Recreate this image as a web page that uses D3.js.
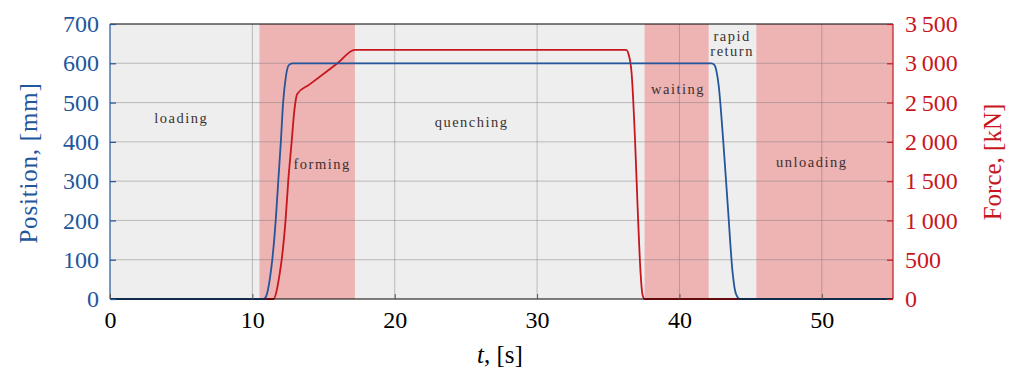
<!DOCTYPE html>
<html><head><meta charset="utf-8">
<script src="https://cdn.jsdelivr.net/npm/d3@7"></script>
<style>body{margin:0;background:#fff}svg{display:block}</style>
</head><body><svg id="c" width="1017" height="370"></svg>
<script>
// ---- data ----
const posT = [0, 10.8, 11.0, 11.2, 11.4, 11.64, 11.82, 12.0, 12.16, 12.35, 12.55, 12.8, 42.25, 42.45, 42.6, 42.75, 43.07, 43.39, 43.74, 43.95, 44.25, 55];
const posV = [0, 0, 10, 45, 100, 200, 300, 400, 500, 565, 595, 600, 600, 596, 580, 545, 405, 240, 65, 15, 0, 0];
const forceT = [0, 11.5, 11.7, 11.9, 12.06, 12.33, 12.52, 12.76, 12.95, 13.15, 14.0, 16.0, 17.2, 36.25, 36.45, 36.64, 36.88, 37.06, 37.27, 37.4, 37.55, 55];
const forceV = [0, 0, 100, 300, 500, 1000, 1500, 2000, 2400, 2610, 2728, 3004, 3170, 3170, 3100, 2873, 2024, 1175, 330, 60, 0, 0];
const bandStart = [10.5, 37.55, 45.4];
const bandEnd = [17.2, 42.05, 55];
const phaseNames = ["loading", "forming", "quenching", "waiting", "rapid|return", "unloading"];
const phaseT = [5.0, 14.9, 25.4, 39.9, 43.7, 49.3];
const phasePos = [448, 331, 438, 522, 657, 336];
const xTicks = [0, 10, 20, 30, 40, 50];
const posTicks = [0, 100, 200, 300, 400, 500, 600, 700];
const forceTicks = [0, 500, 1000, 1500, 2000, 2500, 3000, 3500];
const forceTickLabels = ["0", "500", "1\u2009000", "1\u2009500", "2\u2009000", "2\u2009500", "3\u2009000", "3\u2009500"];

// ---- layout ----
const L = 110, R = 893, T = 24, B = 299;
const blue = "#23569a", red = "#c8161d";
const svg = d3.select("#c");
const x = d3.scaleLinear().domain([0, 55]).range([L, R]);
const yP = d3.scaleLinear().domain([0, 700]).range([B, T]);
const yF = d3.scaleLinear().domain([0, 3500]).range([B, T]);
const font = "Liberation Serif";

svg.append("rect").attr("x", L).attr("y", T).attr("width", R - L).attr("height", B - T).attr("fill", "#eeeeee");
svg.selectAll(".band").data(bandStart).join("rect")
  .attr("x", (d) => x(d)).attr("y", T)
  .attr("width", (d, i) => x(bandEnd[i]) - x(d)).attr("height", B - T)
  .attr("fill", "#eeb3b3");

// grid
svg.selectAll(".gx").data(xTicks.slice(1)).join("line")
  .attr("x1", (d) => x(d)).attr("x2", (d) => x(d)).attr("y1", T).attr("y2", B)
  .attr("stroke", "#7a7a7a").attr("stroke-opacity", 0.45).attr("stroke-width", 1);
svg.selectAll(".gy").data(posTicks.slice(1, -1)).join("line")
  .attr("x1", L).attr("x2", R).attr("y1", (d) => yP(d)).attr("y2", (d) => yP(d))
  .attr("stroke", "#7a7a7a").attr("stroke-opacity", 0.45).attr("stroke-width", 1);

// phase labels
phaseNames.forEach((n, i) => {
  const parts = n.split("|");
  const t = svg.append("text").attr("x", x(phaseT[i])).attr("y", yP(phasePos[i]))
    .attr("text-anchor", "middle").attr("font-family", font).attr("font-size", 14.5)
    .attr("letter-spacing", 1.5).attr("fill", "#3a3030");
  parts.forEach((p, j) => t.append("tspan").attr("x", x(phaseT[i])).attr("dy", j ? 15 : 0).text(p));
});

// lines
const lineP = d3.line().x((d) => x(d[0])).y((d) => yP(d[1])).curve(d3.curveMonotoneX);
const lineF = d3.line().x((d) => x(d[0])).y((d) => yF(d[1])).curve(d3.curveMonotoneX);
svg.append("path").attr("d", lineF(d3.zip(forceT, forceV))).attr("fill", "none").attr("stroke", red).attr("stroke-width", 1.8);
svg.append("path").attr("d", lineP(d3.zip(posT, posV))).attr("fill", "none").attr("stroke", blue).attr("stroke-width", 1.8);

// frame
svg.append("line").attr("x1", L).attr("x2", R).attr("y1", T).attr("y2", T).attr("stroke", "#000").attr("stroke-width", 1.2);
svg.append("line").attr("x1", L).attr("x2", R).attr("y1", B).attr("y2", B).attr("stroke", "#000").attr("stroke-width", 1.2);
svg.append("line").attr("x1", L).attr("x2", L).attr("y1", T).attr("y2", B).attr("stroke", blue).attr("stroke-width", 1.2);
svg.append("line").attr("x1", R).attr("x2", R).attr("y1", T).attr("y2", B).attr("stroke", red).attr("stroke-width", 1.2);

// axes
const ax = svg.append("g").attr("transform", `translate(0,${B})`)
  .call(d3.axisBottom(x).tickValues(xTicks).tickSize(-5).tickPadding(12).tickFormat(d3.format("d")));
ax.select(".domain").remove();
ax.selectAll("line").attr("stroke", "#555");
ax.selectAll("text").attr("font-family", font).attr("font-size", 24).attr("fill", "#000");

const ay = svg.append("g").attr("transform", `translate(${L},0)`)
  .call(d3.axisLeft(yP).tickValues(posTicks).tickSize(-6).tickPadding(11).tickFormat(d3.format("d")));
ay.select(".domain").remove();
ay.selectAll("line").attr("stroke", blue).attr("stroke-width", 1.2);
ay.selectAll("text").attr("font-family", font).attr("font-size", 24).attr("fill", blue);

const ar = svg.append("g").attr("transform", `translate(${R},0)`)
  .call(d3.axisRight(yF).tickValues(forceTicks).tickSize(-6).tickPadding(12).tickFormat((d, i) => forceTickLabels[i]));
ar.select(".domain").remove();
ar.selectAll("line").attr("stroke", red).attr("stroke-width", 1.2);
ar.selectAll("text").attr("font-family", font).attr("font-size", 24).attr("fill", red);

// titles
svg.append("text").attr("transform", `translate(37,163) rotate(-90)`)
  .attr("text-anchor", "middle").attr("font-family", font).attr("font-size", 25).attr("letter-spacing", 0.8).attr("fill", blue).text("Position, [mm]");
svg.append("text").attr("transform", `translate(1001,162) rotate(-90)`)
  .attr("text-anchor", "middle").attr("font-family", font).attr("font-size", 25).attr("fill", red).text("Force, [kN]");
const xt = svg.append("text").attr("x", 500).attr("y", 363).attr("text-anchor", "middle")
  .attr("font-family", font).attr("font-size", 25).attr("fill", "#000");
xt.append("tspan").attr("font-style", "italic").text("t");
xt.append("tspan").text(", [s]");
</script></body></html>
